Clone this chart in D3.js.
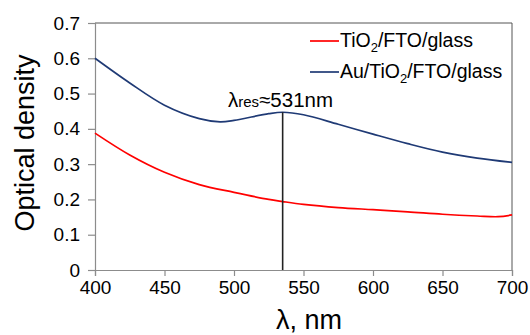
<!DOCTYPE html>
<html>
<head>
<meta charset="utf-8">
<script src="https://cdn.jsdelivr.net/npm/d3@7"></script>
<style>
  body { margin: 0; background: #fff; }
  svg { font-family: "Liberation Sans", Arial, sans-serif; }
</style>
</head>
<body>
<svg id="chart" width="530" height="335"></svg>
<script>
// wavelength grid (nm) and optical density
var wavelengthTiO2 = [400, 425, 450, 475, 500, 525, 535, 550, 575, 600, 625, 650, 675, 690, 700];
var odTiO2 = [0.388, 0.326, 0.277, 0.242, 0.220, 0.200, 0.194, 0.186, 0.177, 0.171, 0.165, 0.158, 0.153, 0.151, 0.156];

var wavelengthAu = [400, 425, 450, 475, 490, 500, 525, 535, 550, 575, 600, 625, 650, 675, 700];
var odAu = [0.600, 0.530, 0.467, 0.429, 0.420, 0.424, 0.443, 0.447, 0.440, 0.413, 0.385, 0.358, 0.334, 0.317, 0.305];

var xTicks = [400, 450, 500, 550, 600, 650, 700];
var yTicks = [0, 0.1, 0.2, 0.3, 0.4, 0.5, 0.6, 0.7];
var peakWavelength = 535;
var peakOD = 0.447;

var svg = d3.select("#chart");
var plotL = 95, plotR = 512, plotT = 23, plotB = 270;

var x = d3.scaleLinear().domain([400, 700]).range([plotL, plotR]);
var y = d3.scaleLinear().domain([0, 0.7]).range([plotB, plotT]);

// plot border (top + right)
svg.append("path")
  .attr("d", "M" + plotL + "," + plotT + "H" + plotR + "V" + plotB)
  .attr("fill", "none")
  .attr("stroke", "#555")
  .attr("stroke-width", 1);

// y axis
var yAxis = svg.append("g")
  .attr("transform", "translate(" + plotL + ",0)")
  .call(d3.axisLeft(y).tickValues(yTicks).tickSize(7).tickPadding(8)
    .tickFormat(d => d === 0 ? "0" : d3.format(".1f")(d)));
// x axis
var xAxis = svg.append("g")
  .attr("transform", "translate(0," + plotB + ")")
  .call(d3.axisBottom(x).tickValues(xTicks).tickSize(6).tickPadding(5));

[yAxis, xAxis].forEach(g => {
  g.select(".domain").attr("stroke", "#8c8c8c").attr("stroke-width", 1.2);
  g.selectAll(".tick line").attr("stroke", "#8c8c8c").attr("stroke-width", 1.2);
  g.selectAll("text").attr("fill", "#000").style("font-size", "19px")
    .style("font-family", "Liberation Sans, Arial, sans-serif");
});

// curves
var lineTiO2 = d3.line()
  .x((d, i) => x(wavelengthTiO2[i]))
  .y(d => y(d))
  .curve(d3.curveCatmullRom);
var lineAu = d3.line()
  .x((d, i) => x(wavelengthAu[i]))
  .y(d => y(d))
  .curve(d3.curveCatmullRom);

svg.append("path").attr("d", lineTiO2(odTiO2))
  .attr("fill", "none").attr("stroke", "#ff0000").attr("stroke-width", 1.7);
svg.append("path").attr("d", lineAu(odAu))
  .attr("fill", "none").attr("stroke", "#1f3a75").attr("stroke-width", 1.7);

// resonance marker
svg.append("line")
  .attr("x1", x(peakWavelength)).attr("x2", x(peakWavelength))
  .attr("y1", y(0)).attr("y2", y(peakOD))
  .attr("stroke", "#222").attr("stroke-width", 1.6);

var ann = svg.append("text")
  .attr("x", 228).attr("y", 107)
  .style("font-size", "20.5px").attr("fill", "#000");
ann.append("tspan").text("λ");
ann.append("tspan").text("res").style("font-size", "15px");
ann.append("tspan").text("≈531nm");

// legend
var legend = [
  { name: ["TiO", "2", "/FTO/glass"], color: "#ff0000" },
  { name: ["Au/TiO", "2", "/FTO/glass"], color: "#1f3a75" }
];
legend.forEach((d, i) => {
  var ly = 41 + i * 31;
  svg.append("line")
    .attr("x1", 310).attr("x2", 339)
    .attr("y1", ly).attr("y2", ly)
    .attr("stroke", d.color).attr("stroke-width", 1.7);
  var t = svg.append("text")
    .attr("x", 340).attr("y", ly + 6)
    .style("font-size", "19.5px").attr("fill", "#000");
  t.append("tspan").text(d.name[0]);
  t.append("tspan").text(d.name[1]).style("font-size", "13px").attr("dy", 5);
  t.append("tspan").text(d.name[2]).attr("dy", -5);
});

// axis titles
svg.append("text")
  .attr("x", 309).attr("y", 329)
  .attr("text-anchor", "middle")
  .style("font-size", "27px")
  .text("λ, nm");

svg.append("text")
  .attr("transform", "translate(34,143) rotate(-90)")
  .attr("text-anchor", "middle")
  .style("font-size", "27px")
  .text("Optical density");
</script>
</body>
</html>
